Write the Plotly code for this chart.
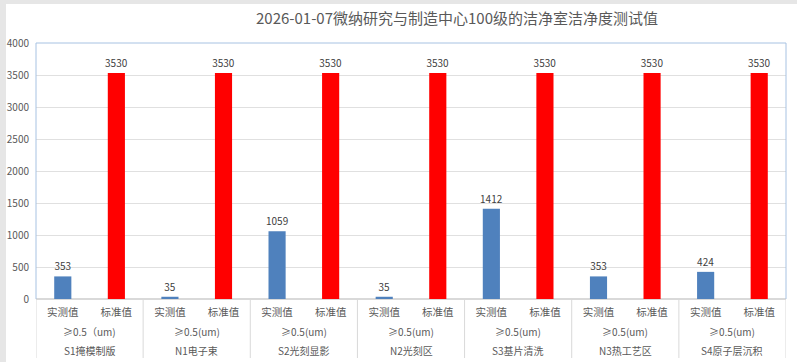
import plotly.graph_objects as go

title_text = "2026-01-07微纳研究与制造中心100级的洁净室洁净度测试值"
rooms = ["S1掩模制版", "N1电子束", "S2光刻显影", "N2光刻区", "S3基片清洗", "N3热工艺区", "S4原子层沉积"]
sizes = ["≥0.5（um)", "≥0.5(um)", "≥0.5(um)", "≥0.5(um)", "≥0.5(um)", "≥0.5(um)", "≥0.5(um)"]
measured = [353, 35, 1059, 35, 1412, 353, 424]
standard = [3530, 3530, 3530, 3530, 3530, 3530, 3530]
series_names = ["实测值", "标准值"]

W, H = 797, 362
ML, MR, MT, MB = 36, 11, 43, 63
PW, PH = W - ML - MR, H - MT - MB

FONT = "'Noto Sans CJK SC', 'Noto Sans', sans-serif"
n = len(rooms)
x_meas = [2 * i for i in range(n)]
x_std = [2 * i + 1 for i in range(n)]

fig = go.Figure()
fig.add_trace(go.Bar(x=x_meas, y=measured, name=series_names[0], width=0.32,
                     marker=dict(color="#4f81bd", line=dict(width=0)),
                     text=[str(v) for v in measured], textposition="outside",
                     constraintext="none",
                     textfont=dict(size=10, color="#404040"), cliponaxis=False))
fig.add_trace(go.Bar(x=x_std, y=standard, name=series_names[1], width=0.32,
                     marker=dict(color="#ff0000", line=dict(width=0)),
                     text=[str(v) for v in standard], textposition="outside",
                     constraintext="none",
                     textfont=dict(size=10, color="#404040"), cliponaxis=False))

tickvals = []
ticktext = []
for i in range(n):
    tickvals += [2 * i, 2 * i + 1]
    ticktext += series_names

shapes = []
# separators between groups
for i in range(n + 1):
    shapes.append(dict(type="line", xref="x", yref="paper", x0=2 * i - 0.5, x1=2 * i - 0.5,
                       y0=0, y1=-59 / PH, line=dict(color="#d9d9d9", width=1)))
# plot-area border (left, top, right)
border = dict(color="#a7c2e2", width=1)
shapes.append(dict(type="line", xref="paper", yref="paper", x0=0, x1=0, y0=0, y1=1, line=border, layer="above"))
shapes.append(dict(type="line", xref="paper", yref="paper", x0=0, x1=1, y0=1, y1=1, line=border, layer="above"))
shapes.append(dict(type="line", xref="paper", yref="paper", x0=1, x1=1, y0=0, y1=1, line=border, layer="above"))
# outer gray frame (top and left)
shapes.append(dict(type="rect", xref="paper", yref="paper", x0=-ML / PW, x1=-(ML - 6) / PW,
                   y0=-MB / PH, y1=(PH + MT) / PH, fillcolor="#e6e6e6", line=dict(width=0)))
shapes.append(dict(type="rect", xref="paper", yref="paper", x0=-ML / PW, x1=(PW + MR) / PW,
                   y0=(PH + MT - 4) / PH, y1=(PH + MT) / PH, fillcolor="#e6e6e6", line=dict(width=0)))

annotations = []
for i in range(n):
    annotations.append(dict(x=2 * i + 0.5, xref="x", y=0, yref="paper", yanchor="middle",
                            yshift=-32, text=sizes[i], showarrow=False,
                            font=dict(size=10, color="#595959", family=FONT)))
    annotations.append(dict(x=2 * i + 0.5, xref="x", y=0, yref="paper", yanchor="middle",
                            yshift=-51, text=rooms[i], showarrow=False,
                            font=dict(size=10, color="#595959", family=FONT)))
annotations.append(dict(x=(457 - ML) / PW, xref="paper", xanchor="center",
                        y=1 + (MT - 17) / PH, yref="paper",
                        yanchor="middle", text=title_text, showarrow=False,
                        font=dict(size=15, color="#595959", family=FONT)))

fig.update_layout(
    width=W, height=H,
    margin=dict(l=ML, r=MR, t=MT, b=MB, autoexpand=False),
    paper_bgcolor="white", plot_bgcolor="white",
    barmode="overlay", showlegend=False,
    font=dict(family=FONT, color="#595959"),
    xaxis=dict(range=[-0.5, 2 * n - 0.5], tickmode="array", tickvals=tickvals, ticktext=ticktext,
               tickfont=dict(size=10.5, color="#595959"), ticks="", showgrid=False,
               zeroline=False, showline=False, ticklabelstandoff=5),
    yaxis=dict(range=[0, 4000], dtick=500, tickfont=dict(size=10, color="#595959"),
               gridcolor="#e0e0e0", gridwidth=1, zeroline=True, zerolinecolor="#d9d9d9",
               showline=False, ticks="", ticklabelstandoff=6),
    shapes=shapes, annotations=annotations,
)
fig.write_html("out.html", config={"displayModeBar": False},
               post_script="document.body.style.margin='0';document.body.style.overflow='hidden';")
